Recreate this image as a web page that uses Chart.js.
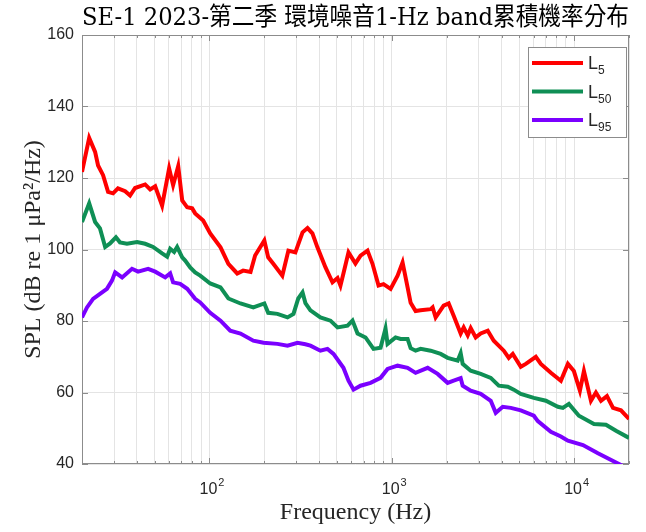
<!DOCTYPE html>
<html>
<head>
<meta charset="utf-8">
<script src="https://cdn.jsdelivr.net/npm/chart.js@4.4.1/dist/chart.umd.min.js"></script>
<style>
  body { margin: 0; background: #fff; }
</style>
</head>
<body>
<canvas id="splChart" width="646" height="532"></canvas>
<script>
const titleText = 'SE-1 2023-第二季 環境噪音1-Hz band累積機率分布';
const seriesNames = ['L5', 'L50', 'L95'];
const seriesColors = ['#ff0000', '#0f8f55', '#7b00ff'];

const xTickValues = [20, 30, 40, 50, 60, 70, 80, 90, 100, 200, 300, 400, 500, 600, 700, 800, 900,
    1000, 2000, 3000, 4000, 5000, 6000, 7000, 8000, 9000, 10000, 20000];
const xMajorTicks = [100, 1000, 10000];
const xMajorExp = ['2', '3', '4'];

const freqL5 = [20, 21.9, 23.6, 24.5, 26.1, 27.8, 29.6, 31.5, 34.5, 36.7, 39.1, 44.4, 47.3, 50.4, 55, 60.1,
    63.2, 67.4, 70.9, 75.5, 80.4, 83.5, 92.4, 101, 115, 127, 142, 153, 168, 178, 200, 210, 224, 251, 271,
    296, 324, 345, 367, 391, 433, 473, 504, 523, 543, 579, 632, 674, 736, 784, 846, 901, 985, 1076, 1146,
    1221, 1269, 1351, 1439, 1634, 1675, 1740, 1925, 2051, 2185, 2387, 2480, 2609, 2710, 2886, 3074, 3360,
    3624, 4114, 4382, 4608, 5100, 5434, 6166, 6569, 7455, 8459, 9243, 9972, 10760, 11320, 12370, 13170,
    14040, 15140, 16340, 18070, 20000];
const L5 = [121.7, 131.2, 127.3, 123.5, 120.8, 116.1, 115.7, 117.1, 116.3, 115.1, 117.2, 118.2, 116.8, 117.7,
    112.3, 122.7, 118, 123.3, 113.7, 111.8, 111.5, 110.1, 108.1, 104.5, 100.6, 96, 93.3, 94.1, 93.7, 98.3,
    102.5, 97.8, 96, 92.7, 99.7, 99.2, 104.8, 106, 104.5, 100.6, 95, 90.8, 92, 89.9, 93.3, 99.2, 96.1, 98.3,
    99.7, 96, 89.9, 90.3, 89, 92.7, 96.4, 89.4, 85.1, 82.8, 83, 83.3, 83.8, 81, 84.3, 84.9, 81.5, 76.5, 78.2,
    76, 78, 75.4, 76.5, 77.3, 74.5, 71.7, 69.7, 70.8, 67.2, 68, 70, 68, 65.5, 63.3, 68, 66, 60.5, 66, 57.7,
    60, 57.7, 59, 55.7, 55, 52.6];

const freqL50 = [20, 21.9, 23.6, 25.1, 26.8, 28.5, 30.7, 32.3, 35.3, 40.1, 44.4, 49.1, 55, 58.6, 60.9, 64,
    66.5, 70.9, 73.6, 78.4, 83.5, 89, 101, 115, 127, 148, 174, 200, 210, 236, 268, 289, 307, 324, 336, 358,
    406, 461, 504, 572, 609, 649, 718, 794, 868, 924, 948, 1049, 1118, 1221, 1269, 1351, 1439, 1634, 1854,
    2025, 2298, 2387, 2448, 2710, 3074, 3490, 3861, 4327, 4667, 5100, 6012, 6998, 8144, 8678, 9361, 10620,
    12850, 14950, 16970, 20000];
const L50 = [107.7, 112.9, 107.7, 105.9, 100.7, 101.7, 103.4, 102, 101.6, 102.1, 101.6, 100.7, 98.9, 98,
    100.2, 99.3, 100.7, 97.8, 96.9, 95, 93.6, 92.7, 90.5, 89.4, 86.3, 84.9, 83.8, 84.9, 82.3, 82, 81, 82,
    86.3, 88, 85, 83, 81, 80.1, 78.2, 78.7, 80.1, 76.5, 75.4, 72.2, 72.5, 77.9, 73.6, 75.4, 75, 75, 72.4,
    71.7, 72.2, 71.7, 70.8, 69.7, 68.9, 71, 68, 66.1, 65.2, 64.1, 61.9, 61.6, 60.8, 59.6, 58.5, 57.7, 56,
    55.7, 56.8, 53.5, 51.2, 51, 49.3, 47.3];

const freqL95 = [20, 21.3, 23, 25.1, 27.4, 29.2, 30.4, 33.2, 37.6, 40.6, 46.1, 50.4, 57.2, 60.9, 63.2, 69.1,
    75.5, 83.5, 89, 101, 115, 130, 148, 174, 198, 236, 268, 304, 336, 358, 406, 444, 479, 543, 579, 617,
    674, 765, 868, 948, 1076, 1221, 1351, 1573, 1784, 2025, 2185, 2387, 2448, 2710, 3074, 3490, 3717, 4062,
    4493, 5100, 6012, 6324, 7455, 8459, 9243, 11180, 13510, 17630, 20000];
const L95 = [81, 83.8, 86.2, 87.6, 89, 91.3, 93.6, 92.2, 94.6, 93.8, 94.6, 93.8, 92.2, 93.3, 90.8, 90.4, 89,
    86.2, 85.2, 82.3, 80.1, 77.3, 76.5, 74.5, 73.9, 73.6, 73.1, 73.9, 73.5, 73.1, 71.7, 72.2, 70.8, 66.9,
    63.3, 60.8, 61.9, 62.7, 64.1, 66.6, 67.5, 66.9, 65.5, 66.9, 65.2, 62.7, 63.3, 64, 61.9, 60.5, 59.6,
    57.7, 54.3, 56, 55.7, 55, 53.5, 52, 49, 47.7, 46.5, 45.3, 43, 40, 38.5];

const seriesFreqs = [freqL5, freqL50, freqL95];
const seriesValues = [L5, L50, L95];

const tickFont = '"Liberation Sans", Arial, sans-serif';

// MATLAB-like box with inward tick marks, plus 10^n labels with real superscripts
const frame = {
    id: 'frame',
    beforeDatasetsDraw(chart) {
        const { ctx, chartArea: a, scales: { x, y } } = chart;
        ctx.save();
        ctx.strokeStyle = '#8c8c8c';
        ctx.lineWidth = 1;
        ctx.strokeRect(a.left + 0.5, a.top + 0.5, a.right - a.left - 1, a.bottom - a.top - 1);
        ctx.beginPath();
        x.ticks.forEach(t => {
            const px = Math.round(x.getPixelForValue(t.value)) + 0.5;
            const len = xMajorTicks.includes(t.value) ? 6 : 3;
            ctx.moveTo(px, a.bottom); ctx.lineTo(px, a.bottom - len);
            ctx.moveTo(px, a.top); ctx.lineTo(px, a.top + len);
        });
        y.ticks.forEach(t => {
            const py = Math.round(y.getPixelForValue(t.value)) + 0.5;
            ctx.moveTo(a.left, py); ctx.lineTo(a.left + 6, py);
            ctx.moveTo(a.right, py); ctx.lineTo(a.right - 6, py);
        });
        ctx.stroke();

        ctx.fillStyle = '#262626';
        ctx.textBaseline = 'alphabetic';
        xMajorTicks.forEach((v, i) => {
            const px = x.getPixelForValue(v);
            ctx.font = '16px ' + tickFont;
            const wBase = ctx.measureText('10').width;
            ctx.font = '11px ' + tickFont;
            const wExp = ctx.measureText(xMajorExp[i]).width;
            const start = px - (wBase + wExp) / 2 + 2;
            ctx.font = '16px ' + tickFont;
            ctx.fillText('10', start, a.bottom + 30);
            ctx.font = '11px ' + tickFont;
            ctx.fillText(xMajorExp[i], start + wBase + 1, a.bottom + 22);
        });
        ctx.restore();
    }
};

// legend box with subscripted labels
const subLegend = {
    id: 'subLegend',
    afterDraw(chart) {
        const { ctx, chartArea: a } = chart;
        const bw = 98, bh = 90;
        const bx = a.right - 3 - bw, by = a.top + 12;
        ctx.save();
        ctx.fillStyle = '#fff';
        ctx.fillRect(bx, by, bw, bh);
        ctx.strokeStyle = '#8c8c8c';
        ctx.lineWidth = 1;
        ctx.strokeRect(bx + 0.5, by + 0.5, bw, bh);
        chart.data.datasets.forEach((ds, i) => {
            const ly = by + 16 + i * 28.5;
            ctx.strokeStyle = ds.borderColor;
            ctx.lineWidth = 4;
            ctx.beginPath();
            ctx.moveTo(bx + 4, ly);
            ctx.lineTo(bx + 55, ly);
            ctx.stroke();
            ctx.fillStyle = '#262626';
            ctx.textBaseline = 'alphabetic';
            ctx.font = '18px ' + tickFont;
            ctx.fillText(ds.label[0], bx + 60, ly + 6);
            const w = ctx.measureText(ds.label[0]).width;
            ctx.font = '12px ' + tickFont;
            ctx.fillText(ds.label.slice(1), bx + 60 + w, ly + 11);
        });
        ctx.restore();
    }
};

const ctx = document.getElementById('splChart').getContext('2d');
new Chart(ctx, {
    type: 'line',
    data: {
        datasets: seriesNames.map((name, i) => ({
            label: name,
            data: seriesFreqs[i].map((f, j) => ({ x: f, y: seriesValues[i][j] })),
            borderColor: seriesColors[i],
            backgroundColor: seriesColors[i],
            borderWidth: 4,
            pointRadius: 0,
            tension: 0,
            fill: false
        }))
    },
    options: {
        responsive: false,
        animation: false,
        devicePixelRatio: 1,
        layout: { padding: { left: 0, right: 17, top: 0, bottom: 0 } },
        plugins: {
            legend: { display: false },
            tooltip: { enabled: false },
            title: {
                display: true,
                fullSize: false,
                text: titleText,
                color: '#000',
                font: { family: '"DejaVu Serif", "Noto Sans CJK TC", serif', size: 25, weight: 'normal', lineHeight: 1.2 },
                padding: { top: 3, bottom: 2 }
            }
        },
        scales: {
            x: {
                type: 'logarithmic',
                min: 20,
                max: 20000,
                afterBuildTicks: scale => {
                    scale.ticks = xTickValues.map(v => ({ value: v }));
                },
                afterFit: scale => { scale.height = 68; },
                ticks: {
                    autoSkip: false,
                    maxRotation: 0,
                    padding: 12,
                    font: { family: tickFont, size: 16 },
                    callback: () => ''
                },
                grid: { color: '#e4e4e4', drawTicks: false },
                border: { display: false },
                title: {
                    display: true,
                    text: 'Frequency (Hz)',
                    color: '#262626',
                    font: { family: '"Liberation Serif", "Times New Roman", serif', size: 24, lineHeight: 1.2 },
                    padding: { top: 0, bottom: 5 }
                }
            },
            y: {
                min: 40,
                max: 160,
                afterFit: scale => { scale.width = 82; },
                ticks: {
                    stepSize: 20,
                    padding: 8,
                    color: '#262626',
                    font: { family: tickFont, size: 16 }
                },
                grid: { color: '#e4e4e4', drawTicks: false },
                border: { display: false },
                title: {
                    display: true,
                    text: 'SPL (dB re 1 μPa²/Hz)',
                    color: '#262626',
                    font: { family: '"Liberation Serif", "Times New Roman", serif', size: 24, lineHeight: 1.2 },
                    padding: { top: 19, bottom: 0 }
                }
            }
        }
    },
    plugins: [frame, subLegend]
});
</script>
</body>
</html>
